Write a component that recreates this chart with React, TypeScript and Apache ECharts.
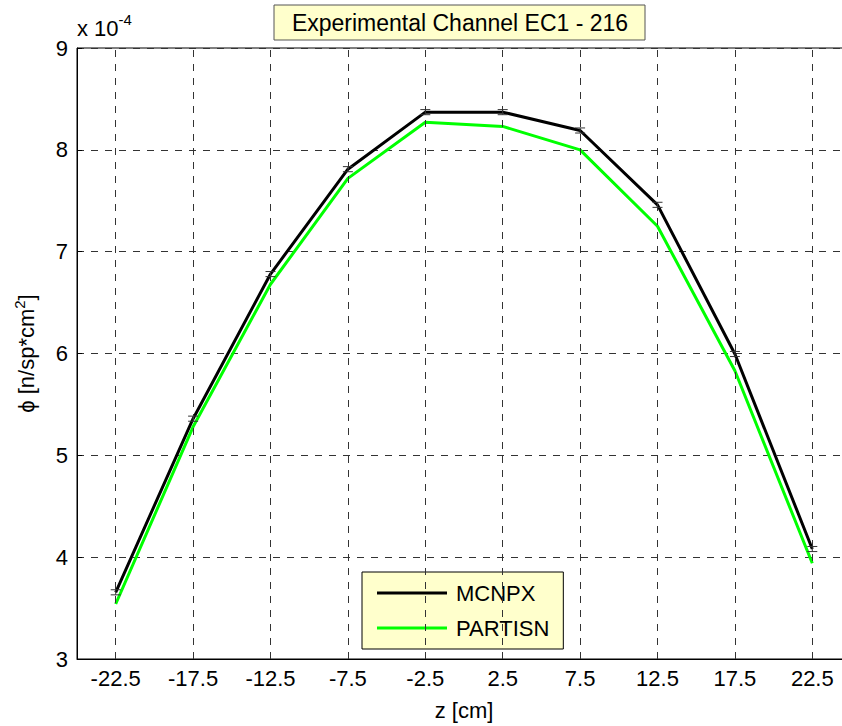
import React, { useEffect, useRef } from "react";
import * as echarts from "echarts";

const zPositions = [-22.5, -17.5, -12.5, -7.5, -2.5, 2.5, 7.5, 12.5, 17.5, 22.5];
const mcnpx = [3.655, 5.36, 6.78, 7.81, 8.37, 8.37, 8.19, 7.46, 5.995, 4.08];
const partisn = [3.54, 5.28, 6.68, 7.72, 8.27, 8.23, 8.0, 7.25, 5.83, 3.94];
const mcnpxErr = [0.025, 0.025, 0.025, 0.025, 0.025, 0.025, 0.025, 0.025, 0.025, 0.025];
const xTicks = [-22.5, -17.5, -12.5, -7.5, -2.5, 2.5, 7.5, 12.5, 17.5, 22.5];
const yTicks = [3, 4, 5, 6, 7, 8, 9];
const titleText = "Experimental Channel EC1 - 216";
const seriesNames = ["MCNPX", "PARTISN"];

const FONT = "'Liberation Sans', Arial, Helvetica, sans-serif";
const FS = 22;

export default function App() {
  const ref = useRef<HTMLDivElement>(null);
  useEffect(() => {
    if (!ref.current) return;
    const chart = echarts.init(ref.current, undefined, { renderer: "svg" });
    const gridColor = "#333";
    const dash = [7, 7];
    const option: any = {
      animation: false,
      backgroundColor: "#fff",
      textStyle: { fontFamily: FONT },
      grid: {
        left: 77,
        top: 48,
        right: 0,
        bottom: 66,
        show: true,
        borderColor: "#000",
        borderWidth: 1,
        backgroundColor: "transparent",
      },
      xAxis: {
        type: "value",
        min: -25,
        max: 25,
        interval: 5,
        name: "z [cm]",
        nameLocation: "middle",
        nameGap: 40,
        nameTextStyle: { fontSize: FS, color: "#000", fontFamily: FONT },
        axisLine: { show: true, onZero: false, lineStyle: { color: "#000", width: 1 } },
        axisTick: {
          show: true,
          inside: true,
          length: 5,
          customValues: xTicks,
          lineStyle: { color: "#000" },
        },
        axisLabel: {
          customValues: xTicks,
          fontSize: FS,
          color: "#000",
          margin: 8,
          fontFamily: FONT,
          formatter: (v: number) => String(v),
        },
        splitLine: { show: false },
      },
      yAxis: {
        type: "value",
        min: 3,
        max: 9,
        interval: 1,
        name: "ϕ [n/sp*cm{sup|2}]",
        nameLocation: "middle",
        nameGap: 36,
        nameRotate: 90,
        nameTextStyle: {
          fontSize: FS,
          color: "#000",
          fontFamily: FONT,
          rich: {
            sup: { fontSize: 15, color: "#000", fontFamily: FONT, verticalAlign: "top", padding: [0, 0, 14, 0] },
          },
        },
        axisLine: { show: true, onZero: false, lineStyle: { color: "#000", width: 1 } },
        axisTick: { show: true, inside: true, length: 5, lineStyle: { color: "#000" } },
        axisLabel: {
          fontSize: FS,
          color: "#000",
          margin: 9,
          fontFamily: FONT,
          formatter: (v: number) => (yTicks.includes(v) ? String(v) : ""),
        },
        splitLine: { show: true, lineStyle: { color: gridColor, type: dash, width: 1 } },
      },
      legend: {
        left: 362,
        top: 572,
        orient: "vertical",
        backgroundColor: "#ffffcc",
        borderColor: "#000",
        borderWidth: 1,
        borderRadius: 0,
        padding: [10, 14, 10, 15],
        itemGap: 13,
        itemWidth: 70,
        itemHeight: 3,
        icon: "rect",
        data: seriesNames,
        textStyle: { fontSize: FS, color: "#000", fontFamily: FONT, padding: [0, 0, 0, 4] },
      },
      graphic: [
        {
          type: "rect",
          shape: { x: 274, y: 5, width: 371, height: 35 },
          style: { fill: "#ffffcc", stroke: "#555", lineWidth: 1 },
          z: 100,
        },
        {
          type: "text",
          x: 460,
          y: 23,
          style: {
            text: titleText,
            fontSize: 23,
            fontFamily: FONT,
            fill: "#000",
            align: "center",
            verticalAlign: "middle",
          },
          z: 101,
        },
        {
          type: "text",
          x: 77,
          y: 28,
          style: {
            text: "x 10{sup|-4}",
            fontSize: FS,
            fontFamily: FONT,
            fill: "#000",
            align: "left",
            verticalAlign: "middle",
            rich: {
              sup: { fontSize: 15, fontFamily: FONT, fill: "#000", verticalAlign: "top", padding: [0, 0, 18, 0] },
            },
          },
          z: 101,
        },
      ],
      series: [
        {
          name: "MCNPX",
          type: "line",
          data: zPositions.map((z, i) => [z, mcnpx[i]]),
          symbol: "none",
          lineStyle: { color: "#000", width: 3 },
          itemStyle: { color: "#000" },
          z: 3,
          markLine: {
            silent: true,
            symbol: "none",
            label: { show: false },
            lineStyle: { color: gridColor, type: dash, width: 1 },
            data: xTicks.map((v) => ({ xAxis: v })),
          },
        },
        {
          name: "PARTISN",
          type: "line",
          data: zPositions.map((z, i) => [z, partisn[i]]),
          symbol: "none",
          lineStyle: { color: "#00ff00", width: 3 },
          itemStyle: { color: "#00ff00" },
          z: 4,
        },
        {
          name: "MCNPX error",
          type: "custom",
          data: zPositions.map((z, i) => [z, mcnpx[i], mcnpxErr[i]]),
          z: 5,
          renderItem: (params: any, api: any) => {
            const x = api.value(0);
            const y = api.value(1);
            const e = api.value(2);
            const hi = api.coord([x, y + e]);
            const lo = api.coord([x, y - e]);
            const w = 5;
            const style = { stroke: "#333", lineWidth: 1 };
            return {
              type: "group",
              children: [
                { type: "line", shape: { x1: hi[0], y1: hi[1], x2: lo[0], y2: lo[1] }, style },
                { type: "line", shape: { x1: hi[0] - w, y1: hi[1], x2: hi[0] + w, y2: hi[1] }, style },
                { type: "line", shape: { x1: lo[0] - w, y1: lo[1], x2: lo[0] + w, y2: lo[1] }, style },
              ],
            };
          },
        },
      ],
    };
    chart.setOption(option);
    return () => chart.dispose();
  }, []);
  return (
    <div style={{ position: "absolute", left: 0, top: 0, width: 842, height: 726, overflow: "hidden", background: "#fff" }}>
      <div ref={ref} style={{ width: 851, height: 726 }} />
    </div>
  );
}
